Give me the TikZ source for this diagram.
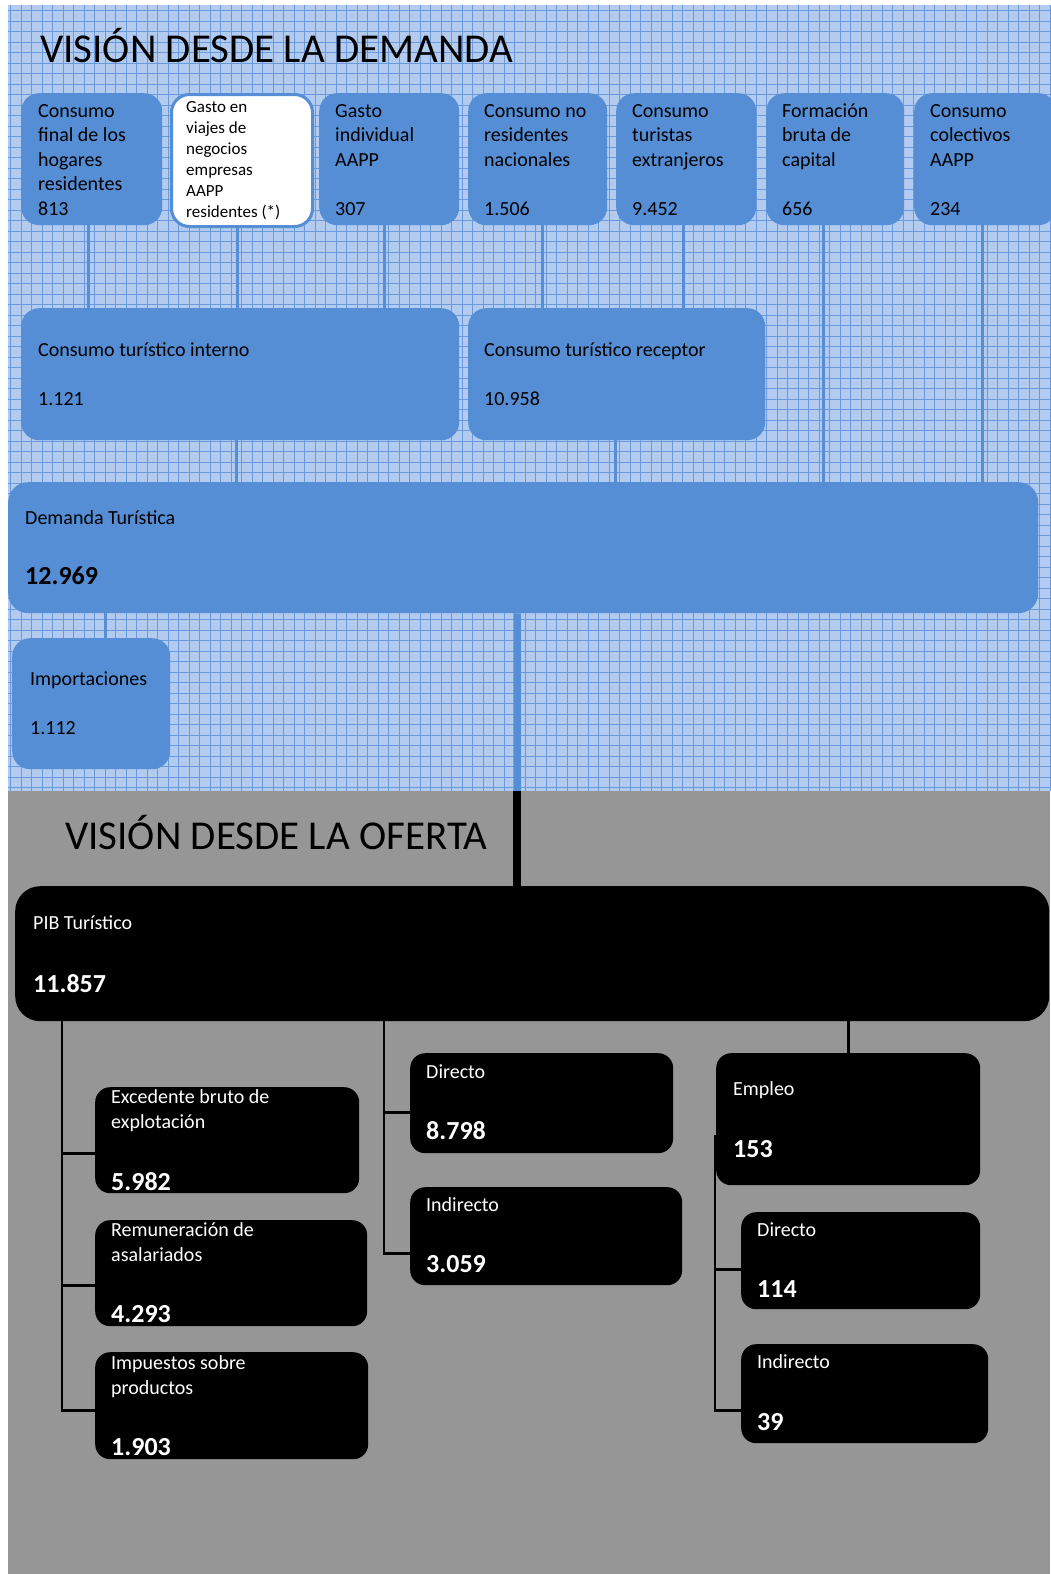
\documentclass[tikz,border=0pt]{standalone}
\usepackage{fontspec}
\setmainfont{Carlito}
\definecolor{demblue}{HTML}{558ED5}
\definecolor{gridfill}{HTML}{B2CBEF}
\definecolor{gridline}{HTML}{6A9ADE}
\definecolor{ofegrey}{HTML}{969696}

\begin{document}
\begin{tikzpicture}[x=1pt,y=-1pt,
	dbox/.style={rectangle, rounded corners=18pt, fill=demblue, anchor=north west, inner sep=0pt},
	obox/.style={rectangle, rounded corners=15pt, fill=black, anchor=north west, inner sep=0pt},
	dtxt/.style={anchor=base west, inner sep=0pt, align=left, font=\fontsize{20}{24.5}\selectfont},
	otxt/.style={dtxt, text=white},
	dvalue/.style={anchor=base west, inner sep=0pt, font=\fontsize{26}{30}\selectfont\bfseries},
	ovalue/.style={dvalue, text=white},
	dlink/.style={demblue, line width=3pt},
	olink/.style={black, line width=2.7pt},
	ttl/.style={anchor=base west, inner sep=0pt, font=\fontsize{41}{49}\selectfont}]
	\useasboundingbox (0,0) rectangle (1050,1574);

	%backgrounds
	\fill[gridfill] (8,5) rectangle (1050,791);
	\draw[gridline, line width=0.8pt, step=10.5pt] (8,5) grid (1050,791);
	\fill[ofegrey] (8,791) rectangle (1050,1574);

	%titles
	\node[ttl] (tdem) at (40,62) {VISIÓN DESDE LA DEMANDA};
	\node[ttl] (tofe) at (65,849) {VISIÓN DESDE LA OFERTA};

	%demand side, first row (text anchored at its last line)
	\node[dbox, minimum width=141pt, minimum height=132pt] (cfh) at (21,93) {};
	\node[dbox, fill=white, draw=demblue, line width=3pt, minimum width=141pt, minimum height=132pt] (gvn) at (170,93) {};
	\node[dbox, minimum width=140pt, minimum height=132pt] (gia) at (319,93) {};
	\node[dbox, minimum width=139pt, minimum height=132pt] (cnr) at (468,93) {};
	\node[dbox, minimum width=140pt, minimum height=132pt] (cte) at (616,93) {};
	\node[dbox, minimum width=138pt, minimum height=132pt] (fbc) at (766,93) {};
	\node[dbox, minimum width=142pt, minimum height=132pt] (cca) at (914,93) {};

	\node[dtxt] (cfhL) at ([shift={(17,122)}]cfh.north west) {Consumo\\final de los\\hogares\\residentes\\813};
	\node[dtxt, font=\fontsize{17}{20.9}\selectfont] (gvnL) at ([shift={(16,124)}]gvn.north west) {Gasto en\\viajes de\\negocios\\empresas\\AAPP\\residentes (*)};
	\node[dtxt] (giaL) at ([shift={(16,122)}]gia.north west) {Gasto\\individual\\AAPP\\[24.5pt]307};
	\node[dtxt] (cnrL) at ([shift={(16,122)}]cnr.north west) {Consumo no\\residentes\\nacionales\\[24.5pt]1.506};
	\node[dtxt] (cteL) at ([shift={(16,122)}]cte.north west) {Consumo\\turistas\\extranjeros\\[24.5pt]9.452};
	\node[dtxt] (fbcL) at ([shift={(16,122)}]fbc.north west) {Formación\\bruta de\\capital\\[24.5pt]656};
	\node[dtxt] (ccaL) at ([shift={(16,122)}]cca.north west) {Consumo\\colectivos\\AAPP\\[24.5pt]234};

	%demand side, second row
	\node[dbox, minimum width=438pt, minimum height=132pt] (cti) at (21,308) {};
	\node[dbox, minimum width=297pt, minimum height=132pt] (ctr) at (468,308) {};
	\node[dtxt] (ctiL) at ([shift={(17,97)}]cti.north west) {Consumo turístico interno\\[24.5pt]1.121};
	\node[dtxt] (ctrL) at ([shift={(16,97)}]ctr.north west) {Consumo turístico receptor\\[24.5pt]10.958};

	%total demand and imports
	\node[dbox, rounded corners=20pt, minimum width=1030pt, minimum height=131pt] (dem) at (8,482) {};
	\node[dtxt] (demL) at ([shift={(17,42)}]dem.north west) {Demanda Turística};
	\node[dvalue] (demV) at ([shift={(17,102)}]dem.north west) {12.969};
	\node[dbox, minimum width=158pt, minimum height=131pt] (imp) at (12,638) {};
	\node[dtxt] (impL) at ([shift={(18,96)}]imp.north west) {Importaciones\\[24.5pt]1.112};

	%demand links
	\draw[dlink] ([shift={(-3.5,0)}]cfh.south) -- ([shift={(-3.5,0)}]cfh.south |- cti.north);
	\draw[dlink] ([shift={(-4.5,0)}]gvn.south) -- ([shift={(-4.5,0)}]gvn.south |- cti.north);
	\draw[dlink] ([shift={(-5,0)}]gia.south) -- ([shift={(-5,0)}]gia.south |- cti.north);
	\draw[dlink] ([shift={(4.5,0)}]cnr.south) -- ([shift={(4.5,0)}]cnr.south |- ctr.north);
	\draw[dlink] ([shift={(-3,0)}]cte.south) -- ([shift={(-3,0)}]cte.south |- ctr.north);
	\draw[dlink] ([shift={(-12,0)}]fbc.south) -- ([shift={(-12,0)}]fbc.south |- dem.north);
	\draw[dlink] ([shift={(-3,0)}]cca.south) -- ([shift={(-3,0)}]cca.south |- dem.north);
	\draw[dlink] ([shift={(-4,0)}]cti.south) -- ([shift={(-4,0)}]cti.south |- dem.north);
	\draw[dlink] ([shift={(-1.5,0)}]ctr.south) -- ([shift={(-1.5,0)}]ctr.south |- dem.north);
	\draw[dlink] ([shift={(14,0)}]imp.north) -- ([shift={(14,0)}]imp.north |- dem.south);

	%supply side
	\node[obox, rounded corners=25pt, minimum width=1034pt, minimum height=135pt] (pib) at (15,886) {};
	\node[otxt] (pibL) at ([shift={(18,43)}]pib.north west) {PIB Turístico};
	\node[ovalue] (pibV) at ([shift={(18,106)}]pib.north west) {11.857};

	\coordinate (split) at (517,791);
	\draw[demblue, line width=7.5pt] ([shift={(-6,0)}]dem.south) -- (split);
	\draw[black, line width=7.5pt] (split) -- (split |- pib.north);

	\node[obox, minimum width=264pt, minimum height=106pt] (ebe) at (95,1087) {};
	\node[obox, minimum width=272pt, minimum height=106pt] (ras) at (95,1220) {};
	\node[obox, minimum width=273pt, minimum height=107pt] (isp) at (95,1352) {};
	\node[obox, minimum width=263pt, minimum height=100pt] (dir) at (410,1053) {};
	\node[obox, minimum width=272pt, minimum height=98pt] (ind) at (410,1187) {};
	\node[obox, minimum width=264pt, minimum height=132pt] (emp) at (716,1053) {};
	\node[obox, minimum width=239pt, minimum height=97pt] (edir) at (741,1212) {};
	\node[obox, minimum width=247pt, minimum height=99pt] (eind) at (741,1344) {};

	\node[otxt] (ebeL) at ([shift={(16,41)}]ebe.north west) {Excedente bruto de\\explotación};
	\node[ovalue] (ebeV) at ([shift={(16,-3)}]ebe.south west) {5.982};
	\node[otxt] (rasL) at ([shift={(16,41)}]ras.north west) {Remuneración de\\asalariados};
	\node[ovalue] (rasV) at ([shift={(16,-4)}]ras.south west) {4.293};
	\node[otxt] (ispL) at ([shift={(16,42)}]isp.north west) {Impuestos sobre\\productos};
	\node[ovalue] (ispV) at ([shift={(16,-4)}]isp.south west) {1.903};
	\node[otxt] (dirL) at ([shift={(16,25)}]dir.north west) {Directo};
	\node[ovalue] (dirV) at ([shift={(16,-14)}]dir.south west) {8.798};
	\node[otxt] (indL) at ([shift={(16,24)}]ind.north west) {Indirecto};
	\node[ovalue] (indV) at ([shift={(16,-13)}]ind.south west) {3.059};
	\node[otxt] (empL) at ([shift={(17,42)}]emp.north west) {Empleo};
	\node[ovalue] (empV) at ([shift={(17,104)}]emp.north west) {153};
	\node[otxt] (edirL) at ([shift={(16,24)}]edir.north west) {Directo};
	\node[ovalue] (edirV) at ([shift={(16,-12)}]edir.south west) {114};
	\node[otxt] (eindL) at ([shift={(16,24)}]eind.north west) {Indirecto};
	\node[ovalue] (eindV) at ([shift={(16,-13)}]eind.south west) {39};

	%supply links
	\draw[olink] ([shift={(0,13)}]ebe.west) -| ([shift={(47,0)}]pib.south west);
	\draw[olink] ([shift={(0,12)}]ras.west) -| ([shift={(47,0)}]pib.south west);
	\draw[olink] ([shift={(0,4.5)}]isp.west) -| ([shift={(47,0)}]pib.south west);
	\draw[olink] ([shift={(0,9)}]dir.west) -| ([shift={(369,0)}]pib.south west);
	\draw[olink] ([shift={(0,17)}]ind.west) -| ([shift={(369,0)}]pib.south west);
	\draw[olink] (emp.north) -- (emp.north |- pib.south);
	\draw[olink] ([shift={(0,8.5)}]edir.west) -| ([shift={(-1,16)}]emp.west);
	\draw[olink] ([shift={(0,16.5)}]eind.west) -| ([shift={(-1,16)}]emp.west);
\end{tikzpicture}
\end{document}
